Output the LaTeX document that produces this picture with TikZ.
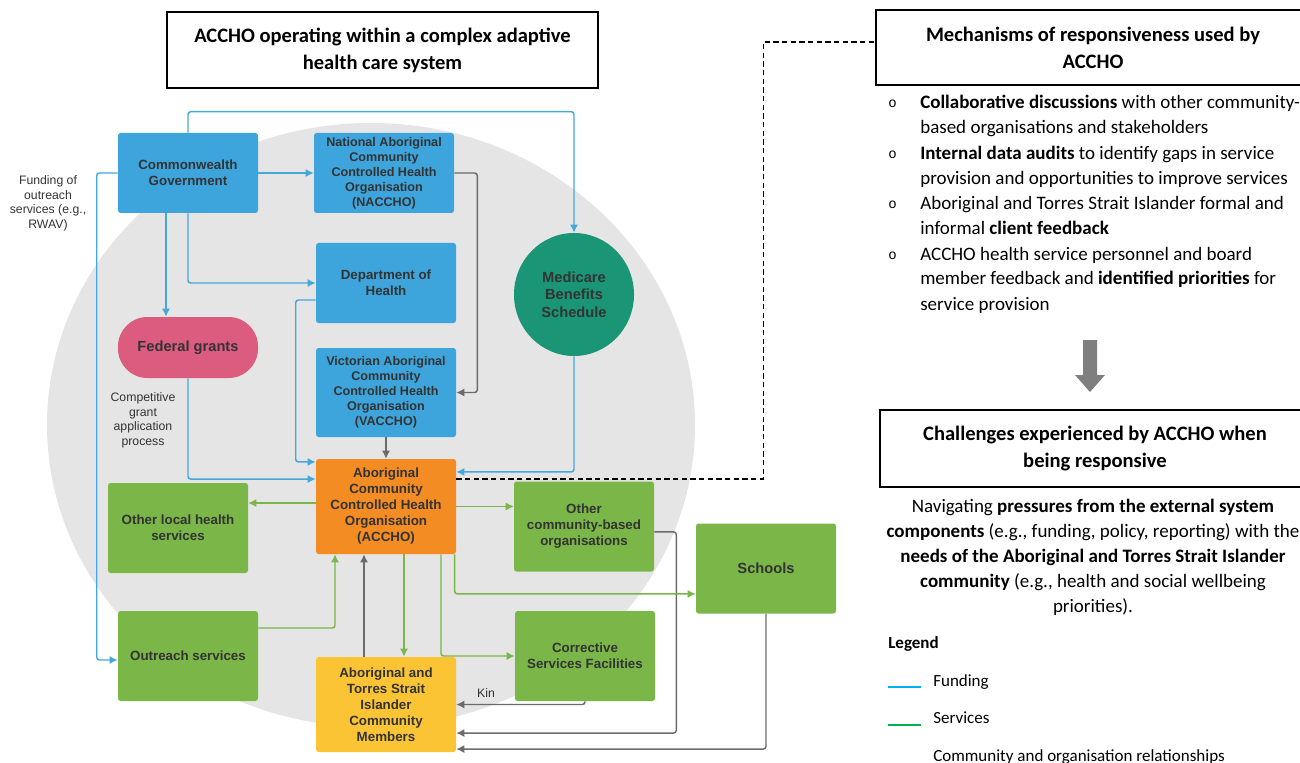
\documentclass[tikz,border=0pt]{standalone}
\usepackage{fontspec}
\setmainfont{Carlito}
\newfontfamily\chartfont{Liberation Sans}
\newfontfamily\bulletfont{Liberation Mono}
\usetikzlibrary{arrows.meta,shapes.geometric}

\definecolor{boxblue}{HTML}{3DA5DC}
\definecolor{boxgreen}{HTML}{7AB648}
\definecolor{boxorange}{HTML}{F28C23}
\definecolor{boxyellow}{HTML}{FBC434}
\definecolor{boxpink}{HTML}{DC5C80}
\definecolor{boxteal}{HTML}{1A9677}
\definecolor{circlegrey}{HTML}{E5E5E5}
\definecolor{boxtext}{HTML}{333333}
\definecolor{fundline}{HTML}{45A8DC}
\definecolor{servline}{HTML}{7AB648}
\definecolor{relline}{HTML}{6B6B6B}
\definecolor{legblue}{HTML}{00B0F0}
\definecolor{leggreen}{HTML}{00B050}
\definecolor{arrowgrey}{HTML}{7F7F7F}

\tikzset{
  box/.style={rectangle, rounded corners=2pt, minimum width=105pt, minimum height=67.5pt,
    align=center, inner sep=2pt, text=boxtext,
    font=\chartfont\bfseries\fontsize{10}{12}\selectfont},
  smalltext/.style={font=\chartfont\bfseries\fontsize{9.45}{11.25}\selectfont},
  bigtext/.style={font=\chartfont\bfseries\fontsize{11}{13.1}\selectfont},
  note/.style={align=center, text=boxtext, inner sep=0pt, font=\chartfont\fontsize{9.2}{10.9}\selectfont},
  fund/.style={draw=fundline, line width=1.1pt, rounded corners=2pt, -{Latex[length=6pt,width=6pt]}},
  serv/.style={draw=servline, line width=1.1pt, rounded corners=2pt, -{Latex[length=6pt,width=6pt]}},
  rel/.style={draw=relline, line width=1.1pt, rounded corners=2pt, -{Latex[length=6pt,width=6pt]}},
  headbox/.style={draw=black, line width=1.3pt, align=center, inner sep=0pt,
    font=\bfseries\fontsize{15.4}{20.25}\selectfont},
  bodytext/.style={inner sep=0pt, font=\fontsize{14.25}{18.75}\selectfont},
  bulletmark/.style={inner sep=0pt, anchor=base west, font=\bulletfont\fontsize{10.5}{18.75}\selectfont},
}

\begin{document}
\begin{tikzpicture}[x=0.75pt,y=-0.75pt]
    \useasboundingbox (0,0) rectangle (1300,763);

    \fill[circlegrey] (371,425) ellipse [x radius=243pt, y radius=226.5pt]; % Background circle

    % Title of the system
    \node[headbox, minimum width=323.25pt, minimum height=57pt] (systitle) at (382.5,50) {ACCHO operating within a complex adaptive\\health care system};

    % Funding bodies
    \node[box, fill=boxblue, minimum height=60pt] (gov) at (188,173) {Commonwealth\\Government};
    \node[box, smalltext, fill=boxblue, minimum height=60pt] (naccho) at (384,173) {National Aboriginal\\Community\\Controlled Health\\Organisation\\(NACCHO)};
    \node[box, fill=boxblue, minimum height=60pt] (doh) at (386,283) {Department of\\Health};
    \node[box, bigtext, fill=boxpink, minimum height=45.75pt, rounded corners=22pt] (fed) at (188,347.5) {Federal grants};
    \node[box, smalltext, fill=boxblue, minimum height=66.75pt] (vaccho) at (386,392.5) {Victorian Aboriginal\\Community\\Controlled Health\\Organisation\\(VACCHO)};
    \node[ellipse, align=center, text=boxtext, bigtext, fill=boxteal, minimum width=90pt, minimum height=92.25pt, inner sep=0pt] (mbs) at (574,294.5) {Medicare\\Benefits\\Schedule};

    % ACCHO and its partners
    \node[box, fill=boxorange, minimum height=71.25pt] (accho) at (386,506.5) {Aboriginal\\Community\\Controlled Health\\Organisation\\(ACCHO)};
    \node[box, fill=boxgreen] (olhs) at (178,528) {Other local health\\services};
    \node[box, fill=boxgreen] (ocbo) at (584,526.5) {Other\\community-based\\organisations};
    \node[box, bigtext, fill=boxgreen] (schools) at (766,568.5) {Schools};
    \node[box, fill=boxgreen] (outreach) at (188,656) {Outreach services};
    \node[box, fill=boxgreen] (csf) at (585,656) {Corrective\\Services Facilities};
    \node[box, fill=boxyellow, minimum height=71.25pt] (comm) at (386,704.5) {Aboriginal and\\Torres Strait\\Islander\\Community\\Members};

    % Funding lines
    \draw[fund] (gov.north) -- ++(0,-21) -| (mbs.north);
    \draw[fund] (gov.east) -- (naccho.west);
    \draw[fund] ([xshift=-16.5pt]gov.south) -- ([xshift=-16.5pt]fed.north);
    \draw[fund] (gov.south) |- (doh.west);
    \draw[fund] (gov.west) -- ++(-21,0) |- ([yshift=-3pt]outreach.west);
    \draw[fund] (fed.south) |- ([yshift=20.6pt]accho.west);
    \draw[fund] ([yshift=-12.75pt]doh.west) -- ++(-20,0) |- ([yshift=33.4pt]accho.west);
    \draw[fund] (mbs.south) |- ([yshift=25.9pt]accho.east);
    \node[note] (outreachnote) at (48,203.5) {Funding of\\outreach\\services (e.g.,\\RWAV)};
    \node[note] (grantnote) at (143,420.5) {Competitive\\grant\\application\\process};

    % Relationship lines
    \draw[rel] (naccho.east) -- ++(23,0) |- (vaccho.east);
    \draw[rel] (vaccho.south) -- (accho.north);
    \draw[rel] ([xshift=-16.5pt]comm.north) -- ([xshift=-16.5pt]accho.south);
    \draw[rel] (csf.south) |- (comm.east);
    \draw[rel] ([yshift=-4.1pt]ocbo.east) -- ++(22,0) |- ([yshift=-21.4pt]comm.east);
    \draw[rel] (schools.south) |- ([yshift=-33.4pt]comm.east);
    \node[note] (kin) at (486,693) {Kin};

    % Service lines
    \draw[serv] ([yshift=2.6pt]accho.west) -- ([yshift=2.6pt]accho.west -| olhs.east);
    \draw[serv] (accho.east) -- (accho.east -| ocbo.west);
    \draw[serv] ([xshift=51.5pt]accho.south) |- ([yshift=-19.1pt]schools.west);
    \draw[serv] ([xshift=41.25pt]accho.south) |- (csf.west);
    \draw[serv] ([xshift=13.5pt]accho.south) -- ([xshift=13.5pt]comm.north);
    \draw[serv] ([yshift=21pt]outreach.east) -| ([xshift=-38.25pt]accho.south);

    % Mechanisms of responsiveness
    \node[headbox, minimum width=325.5pt, minimum height=56.25pt] (mech) at (1093,47.5) {Mechanisms of responsiveness used by\\ACCHO};
    \draw[line width=1.1pt, dash pattern=on 4pt off 2.5pt] ([yshift=20.6pt]accho.east) -- ++(307,0) |- ([yshift=4pt]mech.west);

    % bullet list, each node placed by the baseline of its last line
    \node[bulletmark] (b1) at (888,108) {o};
    \node[bodytext, align=left, anchor=base west] (m1) at (920,134) {\textbf{Collaborative discussions} with other community-\\based organisations and stakeholders};
    \node[bulletmark] (b2) at (888,159) {o};
    \node[bodytext, align=left, anchor=base west] (m2) at (920,185) {\textbf{Internal data audits} to identify gaps in service\\provision and opportunities to improve services};
    \node[bulletmark] (b3) at (888,209) {o};
    \node[bodytext, align=left, anchor=base west] (m3) at (920,235) {Aboriginal and Torres Strait Islander formal and\\informal \textbf{client feedback}};
    \node[bulletmark] (b4) at (888,259) {o};
    \node[bodytext, align=left, anchor=base west] (m4) at (920,310) {ACCHO health service personnel and board\\member feedback and \textbf{identified priorities} for\\service provision};

    % Big arrow down
    \fill[arrowgrey] (1083,340) -- (1097,340) -- (1097,375) -- (1105,375) -- (1090,392) -- (1075,375) -- (1083,375) -- cycle;

    % Challenges
    \node[headbox, minimum width=322.5pt, minimum height=57.75pt] (chall) at (1095,448.5) {Challenges experienced by ACCHO when\\being responsive};
    \node[bodytext, align=center, anchor=base] (challtext) at (1093,612) {Navigating \textbf{pressures from the external system}\\\textbf{components} (e.g., funding, policy, reporting) with the\\\textbf{needs of the Aboriginal and Torres Strait Islander}\\\textbf{community} (e.g., health and social wellbeing\\priorities).};

    % Legend
    \node[anchor=base west, inner sep=0pt, font=\bfseries\fontsize{12.75}{15}\selectfont] (legend) at (888,648) {Legend};
    \draw[legblue, line width=1.3pt] (888,687) -- (921,687);
    \node[anchor=base west, inner sep=0pt, font=\fontsize{12.75}{15}\selectfont] (legfund) at (933,686) {Funding};
    \draw[leggreen, line width=1.3pt] (888,725) -- (921,725);
    \node[anchor=base west, inner sep=0pt, font=\fontsize{12.75}{15}\selectfont] (legserv) at (933,723) {Services};
    \node[anchor=base west, inner sep=0pt, font=\fontsize{12.75}{15}\selectfont] (legrel) at (933,761) {Community and organisation relationships};

\end{tikzpicture}
\end{document}
